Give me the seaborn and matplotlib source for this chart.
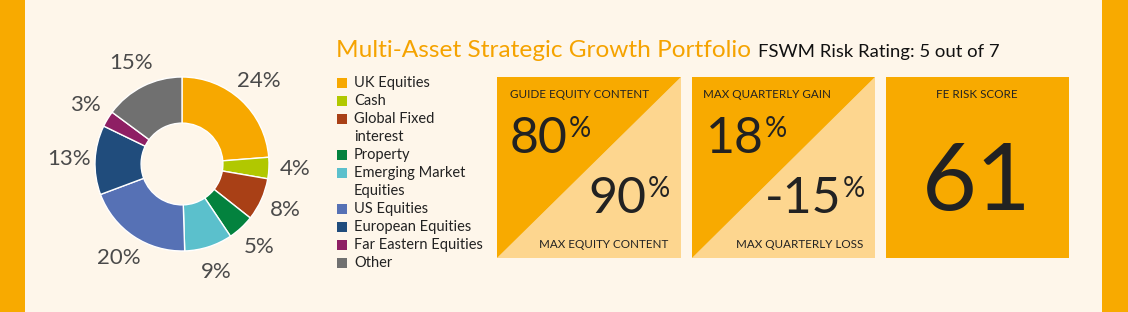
import matplotlib
matplotlib.use("Agg")
import matplotlib.pyplot as plt
from matplotlib.patches import Rectangle, Polygon
import seaborn as sns

# ---- data ----
categories = ["UK Equities", "Cash", "Global Fixed\ninterest", "Property",
              "Emerging Market\nEquities", "US Equities", "European Equities",
              "Far Eastern Equities", "Other"]
values = [24, 4, 8, 5, 9, 20, 13, 3, 15]
colors = ["#F7A800", "#B1C800", "#A94016", "#03823E", "#5BC0CC",
          "#5671B5", "#204C7C", "#8E1F64", "#707070"]
title = "Multi-Asset Strategic Growth Portfolio"
subtitle = "FSWM Risk Rating: 5 out of 7"
guide_equity = "80"
max_equity = "90"
max_gain = "18"
max_loss = "-15"
fe_risk_score = "61"

sns.set_style("white")
plt.rcParams['font.family'] = ['Lato', 'DejaVu Sans']

BG = "#FEF6EA"
ORANGE = "#F8AA00"
LIGHT = "#FDD68F"
DARK = "#222222"

W, H = 1128, 312
fig = plt.figure(figsize=(W / 100, H / 100), dpi=100)
fig.patch.set_facecolor(BG)

# overlay axes in pixel coordinates (y down)
bg = fig.add_axes([0, 0, 1, 1])
bg.set_xlim(0, W)
bg.set_ylim(H, 0)
bg.axis("off")
bg.set_facecolor(BG)

# side bars
bg.add_patch(Rectangle((0, 0), 25, H, color=ORANGE, lw=0))
bg.add_patch(Rectangle((1102, 0), W - 1102, H, color=ORANGE, lw=0))

# ---- donut ----
cx, cy, R, scale = 182, 164, 87, 1.45
side = 2 * R * scale
pax = fig.add_axes([(cx - side / 2) / W, (H - cy - side / 2) / H, side / W, side / H])
total = sum(values)
wedges, texts, autotexts = pax.pie(
    values, colors=colors, startangle=90, counterclock=False, radius=1,
    wedgeprops=dict(width=0.53, edgecolor="white", linewidth=1),
    autopct=lambda p: f"{round(p * total / 100)}%", pctdistance=1.3,
    textprops=dict(fontsize=16, color="#4a4a4a"))
pax.set_xlim(-scale, scale)
pax.set_ylim(-scale, scale)
pax.set_aspect("equal")
pax.axis("off")

# ---- title ----
t = bg.text(336, 57, title, color="#F5A300", fontsize=17.6, va="baseline", ha="left")
fig.canvas.draw()
bb = t.get_window_extent()
bg.text(bb.x1 + 7, 57, subtitle, color="#111111", fontsize=13.3, va="baseline", ha="left")

# ---- legend ----
row0, step = 83, 18
line = 0
for cat, col in zip(categories, colors):
    y = row0 + line * step
    bg.add_patch(Rectangle((337, y - 5), 10, 10, color=col, lw=0))
    for j, part in enumerate(cat.split("\n")):
        bg.text(354, y + j * step, part, fontsize=10.5, color=DARK, va="center", ha="left")
    line += len(cat.split("\n"))

# ---- boxes ----
def split_box(x0, x1, y0, y1):
    bg.add_patch(Polygon([(x1, y0), (x1, y1), (x0, y1)], closed=True, color=LIGHT, lw=0))
    bg.add_patch(Polygon([(x0, y0), (x1, y0), (x0, y1)], closed=True, color=ORANGE, lw=0))

def big_pct(x, y, num):
    tt = bg.text(x, y, num, fontsize=36, color=DARK, va="baseline", ha="left")
    fig.canvas.draw()
    b = tt.get_window_extent()
    bg.text(b.x1 + 1, y - 37, "%", fontsize=20, color=DARK, va="top", ha="left")

def big_pct_right(xr, y, num):
    p = bg.text(xr, y - 37, "%", fontsize=20, color=DARK, va="top", ha="right")
    fig.canvas.draw()
    b = p.get_window_extent()
    bg.text(b.x0 - 1, y, num, fontsize=36, color=DARK, va="baseline", ha="right")

# box 1
split_box(497, 681, 77, 258)
bg.text(510, 98, "GUIDE EQUITY CONTENT", fontsize=8.4, color=DARK, va="baseline")
big_pct(510, 153, guide_equity)
big_pct_right(670, 213, max_equity)
bg.text(668, 248, "MAX EQUITY CONTENT", fontsize=8.4, color=DARK, va="baseline", ha="right")

# box 2
split_box(692, 875, 77, 258)
bg.text(703, 98, "MAX QUARTERLY GAIN", fontsize=8.4, color=DARK, va="baseline")
big_pct(706, 153, max_gain)
big_pct_right(865, 213, max_loss)
bg.text(863, 248, "MAX QUARTERLY LOSS", fontsize=8.4, color=DARK, va="baseline", ha="right")

# box 3
bg.add_patch(Rectangle((886, 77), 183, 181, color=ORANGE, lw=0))
bg.text(977, 98, "FE RISK SCORE", fontsize=8.4, color=DARK, va="baseline", ha="center")
bg.text(977, 210, fe_risk_score, fontsize=68, color=DARK, va="baseline", ha="center")

fig.savefig("out.png", dpi=100, facecolor=BG)
